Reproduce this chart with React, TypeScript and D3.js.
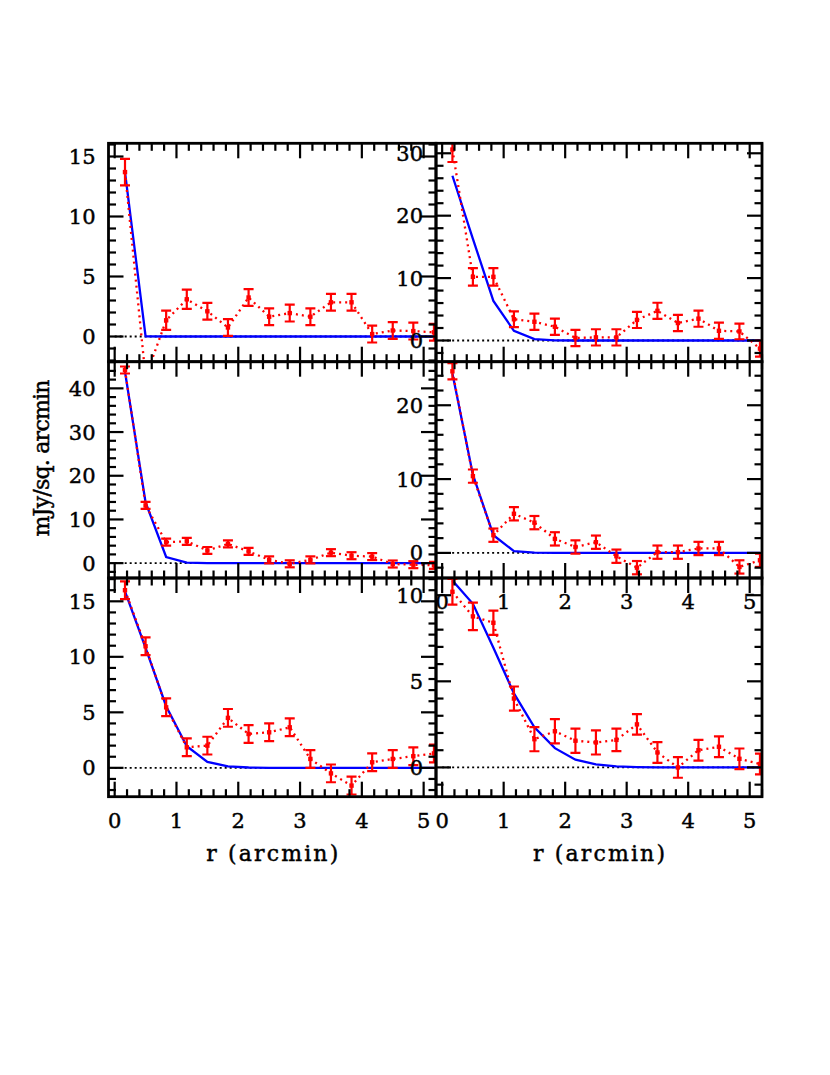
import React from 'react';
import * as d3 from 'd3';

// radii of the annular bins (arcmin)
const radii = [0.167, 0.5, 0.833, 1.167, 1.5, 1.833, 2.167, 2.5, 2.833, 3.167, 3.5, 3.833, 4.167, 4.5, 4.833, 5.167];

// x-axis ticks
const xTickLabels = [0, 1, 2, 3, 4, 5];

// top-left
const obsTL = [13.7, -3.4, 1.35, 3.1, 2.1, 0.75, 3.25, 1.65, 1.95, 1.65, 2.85, 2.85, 0.2, 0.5, 0.45, 0.35];
const errTL = [1.1, 1.0, 0.8, 0.8, 0.7, 0.7, 0.7, 0.7, 0.7, 0.7, 0.7, 0.7, 0.7, 0.7, 0.7, 0.7];
const modelTL = [13.7, 0.02, 0, 0, 0, 0, 0, 0, 0, 0, 0, 0, 0, 0, 0, 0];

// top-right
const obsTR = [30.6, 10.2, 10.2, 3.4, 3.0, 2.2, 0.4, 0.5, 0.5, 3.3, 4.75, 2.8, 3.5, 1.55, 1.45, -1.3];
const errTR = [2.0, 1.4, 1.4, 1.25, 1.3, 1.3, 1.3, 1.3, 1.3, 1.3, 1.3, 1.3, 1.3, 1.3, 1.25, 1.3];
const modelTR = [26.4, 16.3, 6.35, 1.55, 0.22, 0.03, 0, 0, 0, 0, 0, 0, 0, 0, 0, 0];

// middle-left
const obsML = [44.2, 13.2, 4.8, 5.0, 2.9, 4.4, 2.7, 0.75, -0.15, 0.75, 2.4, 1.7, 1.5, -0.2, -0.35, -0.5];
const errML = [0.8, 0.8, 0.8, 0.8, 0.8, 0.8, 0.8, 0.8, 0.8, 0.8, 0.8, 0.8, 0.8, 0.8, 0.8, 0.8];
const modelML = [43.8, 13.9, 1.4, 0.14, 0.02, 0, 0, 0, 0, 0, 0, 0, 0, 0, 0, 0];

// middle-right
const obsMR = [24.6, 10.4, 2.4, 5.3, 4.1, 1.9, 0.8, 1.45, -0.45, -2.0, 0.1, 0.1, 0.6, 0.6, -1.9, -1.0];
const errMR = [1.1, 0.9, 0.9, 0.9, 0.9, 0.9, 0.9, 0.9, 0.9, 0.9, 0.9, 0.9, 0.9, 0.9, 0.9, 0.9];
const modelMR = [24.3, 10.6, 2.4, 0.23, 0.04, 0, 0, 0, 0, 0, 0, 0, 0, 0, 0, 0];

// bottom-left
const obsBL = [16.0, 10.95, 5.45, 1.85, 2.0, 4.5, 3.05, 3.2, 3.65, 0.8, -0.5, -1.6, 0.5, 0.8, 1.05, 1.3];
const errBL = [0.8, 0.8, 0.8, 0.8, 0.8, 0.8, 0.8, 0.8, 0.8, 0.8, 0.8, 0.8, 0.8, 0.8, 0.8, 0.8];
const modelBL = [15.9, 10.8, 5.55, 1.95, 0.54, 0.14, 0.03, 0, 0, 0, 0, 0, 0, 0, 0, 0];

// bottom-right
const obsBR = [10.2, 8.77, 8.4, 4.0, 1.64, 2.1, 1.55, 1.45, 1.6, 2.5, 0.87, 0.0, 1.0, 1.2, 0.5, 0.2];
const errBR = [0.75, 0.8, 0.7, 0.7, 0.7, 0.7, 0.7, 0.7, 0.65, 0.6, 0.6, 0.6, 0.6, 0.6, 0.6, 0.6];
const modelBR = [10.85, 9.5, 6.95, 4.3, 2.33, 1.12, 0.45, 0.18, 0.06, 0.02, 0, 0, 0, 0, 0, 0];

const xTitle = 'r (arcmin)';
const yTitle = 'mJy/sq. arcmin';

const panels = [
  { id: 'tl', col: 0, row: 0, yDomain: [-2.1, 16.1], major: 5, minor: 1, obs: obsTL, err: errTL, model: modelTL, xLabels: false },
  { id: 'tr', col: 1, row: 0, yDomain: [-3.4, 31.6], major: 10, minor: 2, obs: obsTR, err: errTR, model: modelTR, xLabels: false },
  { id: 'ml', col: 0, row: 1, yDomain: [-3.4, 46.1], major: 10, minor: 2, obs: obsML, err: errML, model: modelML, xLabels: false },
  { id: 'mr', col: 1, row: 1, yDomain: [-3.4, 25.9], major: 10, minor: 2, obs: obsMR, err: errMR, model: modelMR, xLabels: true },
  { id: 'bl', col: 0, row: 2, yDomain: [-2.6, 17.1], major: 5, minor: 1, obs: obsBL, err: errBL, model: modelBL, xLabels: true },
  { id: 'br', col: 1, row: 2, yDomain: [-1.7, 11.0], major: 5, minor: 1, obs: obsBR, err: errBR, model: modelBR, xLabels: true },
];

const colX = [[108.5, 436], [436, 762]];
const rowY = [[143.3, 361.7], [361.7, 578], [578, 796.7]];
const xDomain = [-0.1, 5.2];
const FONT = '"DejaVu Serif", serif';
const MAJ = 15;
const MIN = 7.5;

function ticks(lo: number, hi: number, step: number) {
  const out: number[] = [];
  const start = Math.ceil(lo / step - 1e-9);
  for (let k = start; k * step <= hi + 1e-9; k++) out.push(+(k * step).toFixed(6));
  return out;
}
function isMajor(v: number, major: number) {
  return Math.abs(v / major - Math.round(v / major)) < 1e-6;
}

const textStyle = { fontFamily: FONT, fill: '#000', stroke: '#000', strokeWidth: 0.45 };

function Panel({ p }: { p: typeof panels[number] }) {
  const [x0, x1] = colX[p.col];
  const [y0, y1] = rowY[p.row];
  const x = d3.scaleLinear().domain(xDomain).range([x0, x1]);
  const y = d3.scaleLinear().domain(p.yDomain).range([y1, y0]);
  const xt = ticks(xDomain[0], xDomain[1], 0.2);
  const yt = ticks(p.yDomain[0], p.yDomain[1], p.minor);
  const pts = radii.map((r, i) => ({ r, v: p.obs[i], e: p.err[i], m: p.model[i] }));
  const obsLine = d3.line<any>().x(d => x(d.r)).y(d => y(d.v));
  const modLine = d3.line<any>().x(d => x(d.r)).y(d => y(d.m));
  const clipId = 'clip-' + p.id;
  return (
    <g>
      <defs>
        <clipPath id={clipId}>
          <rect x={x0} y={y0} width={x1 - x0} height={y1 - y0} />
        </clipPath>
      </defs>
      <g clipPath={`url(#${clipId})`}>
        <line x1={x(0)} x2={x(xDomain[1])} y1={y(0)} y2={y(0)} stroke="#000" strokeWidth={1.8} strokeDasharray="2 3" />
        <path d={modLine(pts) || ''} fill="none" stroke="#0000ff" strokeWidth={2.3} />
        <path d={obsLine(pts) || ''} fill="none" stroke="#ff0000" strokeWidth={2.3} strokeDasharray="2 4" />
        {pts.map((d, i) => (
          <g key={i} stroke="#ff0000" strokeWidth={2.2}>
            <line x1={x(d.r)} x2={x(d.r)} y1={y(d.v - d.e)} y2={y(d.v + d.e)} />
            <line x1={x(d.r) - 5} x2={x(d.r) + 5} y1={y(d.v - d.e)} y2={y(d.v - d.e)} />
            <line x1={x(d.r) - 5} x2={x(d.r) + 5} y1={y(d.v + d.e)} y2={y(d.v + d.e)} />
            <rect x={x(d.r) - 2.2} y={y(d.v) - 2.2} width={4.4} height={4.4} fill="#ff0000" stroke="none" />
          </g>
        ))}
      </g>
      {/* ticks */}
      <g stroke="#000" strokeWidth={2.2}>
        {xt.map((v, i) => {
          const L = isMajor(v, 1) ? MAJ : MIN;
          return (
            <g key={'x' + i}>
              <line x1={x(v)} x2={x(v)} y1={y1} y2={y1 - L} />
              <line x1={x(v)} x2={x(v)} y1={y0} y2={y0 + L} />
            </g>
          );
        })}
        {yt.map((v, i) => {
          const L = isMajor(v, p.major) ? MAJ : MIN;
          return (
            <g key={'y' + i}>
              <line x1={x0} x2={x0 + L} y1={y(v)} y2={y(v)} />
              <line x1={x1} x2={x1 - L} y1={y(v)} y2={y(v)} />
            </g>
          );
        })}
      </g>
      <rect x={x0} y={y0} width={x1 - x0} height={y1 - y0} fill="none" stroke="#000" strokeWidth={2.8} />
      {/* y tick labels */}
      {yt.filter(v => isMajor(v, p.major)).map((v, i) => (
        <text key={'yl' + i} x={x0 - 13} y={y(v)} dy="0.36em" textAnchor="end" fontSize={21} style={textStyle}>
          {d3.format('d')(v)}
        </text>
      ))}
      {p.xLabels && xTickLabels.map((v, i) => (
        <text key={'xl' + i} x={x(v)} y={y1 + 31} textAnchor="middle" fontSize={21} style={textStyle}>
          {v}
        </text>
      ))}
    </g>
  );
}

export default function App() {
  return (
    <svg width={830} height={1075} style={{ position: 'absolute', left: 0, top: 0, background: '#fff' }}>
      <rect x={0} y={0} width={830} height={1075} fill="#fff" />
      {panels.map(p => <Panel key={p.id} p={p} />)}
      <text x={(colX[0][0] + colX[0][1]) / 2} y={861} textAnchor="middle" fontSize={22} textLength={132} lengthAdjust="spacing" style={textStyle}>{xTitle}</text>
      <text x={(colX[1][0] + colX[1][1]) / 2} y={861} textAnchor="middle" fontSize={22} textLength={132} lengthAdjust="spacing" style={textStyle}>{xTitle}</text>
      <text transform="translate(49,458) rotate(-90)" textAnchor="middle" fontSize={22} textLength={157} lengthAdjust="spacing" style={textStyle}>{yTitle}</text>
    </svg>
  );
}
